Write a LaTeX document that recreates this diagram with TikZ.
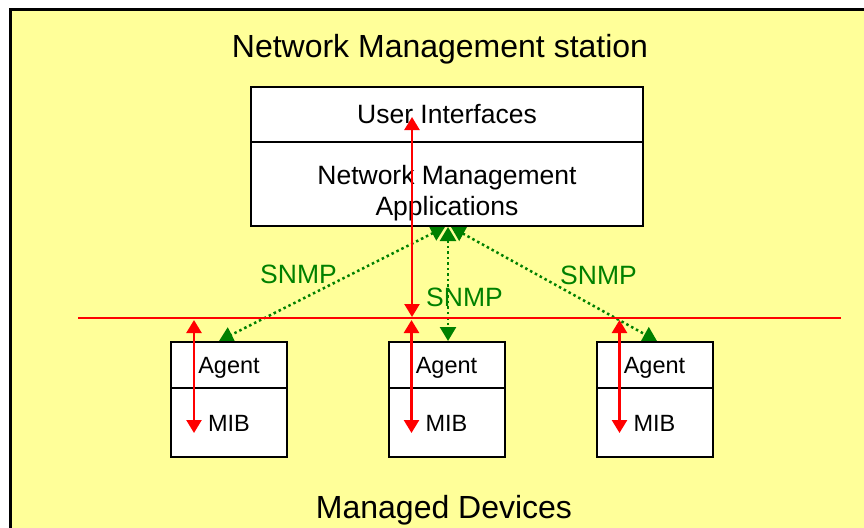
\documentclass[tikz,border=0pt]{standalone}
\usepackage{fontspec}
\setmainfont{Liberation Sans}
\usepackage{tikz}
\usetikzlibrary{arrows.meta}
\definecolor{notepad}{RGB}{255,255,153}
\definecolor{snmpgreen}{RGB}{0,128,0}
\pgfdeclarelayer{paper}
\pgfdeclarelayer{links}
\pgfsetlayers{paper,links,main}

\begin{document}
\begin{tikzpicture}[x=1pt, y=-1pt,
	layerbox/.style={draw=black, line width=2pt, fill=white, minimum width=392pt, inner sep=0pt},
	devbox/.style={draw=black, line width=2pt, fill=white, minimum width=116pt, inner sep=0pt, font=\fontsize{23.5}{28}\selectfont, text height=17pt, text depth=0pt},
	redlink/.style={red, line width=2.5pt, {Triangle[length=13pt,width=15pt]}-{Triangle[length=13pt,width=15pt]}},
	snmplink/.style={snmpgreen, line width=2.5pt, dash pattern=on 2.5pt off 3pt, {Triangle[length=14pt,width=16pt]}-{Triangle[length=14pt,width=16pt]}},
	snmplabel/.style={snmpgreen, font=\fontsize{26.5}{31}\selectfont, anchor=base}]
	\useasboundingbox (0,0) rectangle (864,527);
	\begin{pgfonlayer}{paper}
	\clip (0,0) rectangle (864,527);
	\draw[fill=notepad, line width=3pt] (10.5,10) rectangle (900,560);
	\end{pgfonlayer}

	% station
	\node[anchor=base, font=\fontsize{32}{38}\selectfont] (station) at (440,58) {Network Management station};
	\node[layerbox, minimum height=55pt, font=\fontsize{26.5}{31}\selectfont] (ui) at (447,114.5) {User Interfaces};
	\node[layerbox, minimum height=84pt] (nma) at (447,184) {};
	\node[anchor=north, inner sep=0pt, align=center, font=\fontsize{26.5}{31}\selectfont] (nmatext) at (447,165) {Network Management\\Applications};

	% managed devices
	\foreach \x/\n in {229/1, 446.5/2, 654.5/3} {
		\node[devbox, minimum height=46pt] (agent\n) at (\x,365) {Agent};
		\node[devbox, minimum height=69pt] (mib\n) at (\x,422.5) {MIB};
		\coordinate (up\n) at (\x-35,320);
		\coordinate (down\n) at (\x-35,433);
	}
	\node[anchor=base, font=\fontsize{32}{38}\selectfont] (devices) at (444,518) {Managed Devices};

	% bus and red links
	\coordinate (busw) at (78,318);
	\coordinate (buse) at (841,318);
	\coordinate (uitip) at (412,117);
	\coordinate (bustop) at (412,317);
	\draw[red, line width=2pt] (busw) -- (buse);
	\draw[redlink] (uitip) -- (bustop);
	\foreach \n in {1,2,3}
		\draw[redlink] (up\n) -- (down\n);

	% snmp links
	\begin{pgfonlayer}{links}
	\draw[snmplink] ([xshift=-2pt]nma.south) -- ([xshift=-10pt]agent1.north);
	\draw[snmplink] ([xshift=1pt]nma.south) -- ([xshift=1.5pt]agent2.north);
	\draw[snmplink] ([xshift=4pt]nma.south) -- ([xshift=2.5pt]agent3.north);
	\end{pgfonlayer}
	\node[snmplabel] (snmp1) at (298.5,283) {SNMP};
	\node[snmplabel] (snmp2) at (464.5,306) {SNMP};
	\node[snmplabel] (snmp3) at (598.5,284) {SNMP};
\end{tikzpicture}
\end{document}
